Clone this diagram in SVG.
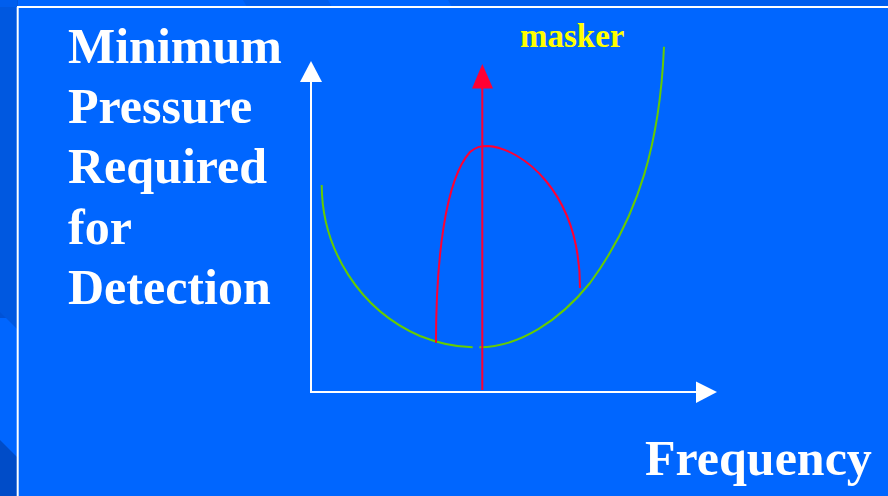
<svg xmlns="http://www.w3.org/2000/svg" width="888" height="496" viewBox="0 0 888 496">
<defs>
<linearGradient id="lg" x1="0" y1="0" x2="0" y2="1">
<stop offset="0" stop-color="#0062F4"/>
<stop offset="1" stop-color="#0052D6"/>
</linearGradient>
<style>
.t{font-family:"Liberation Serif","Times New Roman",serif;font-weight:bold;fill:#FFFFFF;font-size:50px}
.m{font-family:"Liberation Serif","Times New Roman",serif;font-weight:bold;fill:#FFFF00;font-size:33px}
.ax{stroke:#FFFFFF;stroke-width:2;fill:none}
.gr{stroke:#66CC00;stroke-width:2;fill:none}
.rd{stroke:#FF0033;stroke-width:2;fill:none}
</style>
</defs>
<g id="background">
<rect x="0" y="0" width="888" height="496" fill="#0066FF"/>
<rect x="0" y="0" width="18" height="318" fill="url(#lg)"/>
<polygon points="0,0 18,0 18,330 0,312" fill="#0058E0"/>
<polygon points="0,440 18,458 18,496 0,496" fill="#004CC8"/>
<polygon points="0,0 17,0 17,7 0,7" fill="#005EEE"/>
<polygon points="243,0 328,0 332,7 247,7" fill="#005EEE"/>
<polygon points="448,0 888,0 888,7 452,7" fill="#005EEE"/>
<rect x="18" y="8" width="870" height="488" fill="#0066FF"/>
<line x1="17.7" y1="7" x2="17.7" y2="496" stroke="#FFFFFF" stroke-width="2"/>
<line x1="17" y1="7" x2="888" y2="7" stroke="#FFFFFF" stroke-width="2"/>
</g>
<g id="y-label">
<text class="t" x="68" y="63">Minimum</text>
<text class="t" x="68" y="123">Pressure</text>
<text class="t" x="68" y="183">Required</text>
<text class="t" x="68" y="244">for</text>
<text class="t" x="68" y="304">Detection</text>
</g>
<g id="x-label">
<text class="t" x="645" y="475">Frequency</text>
</g>
<g id="masker-label">
<text class="m" x="520" y="47">masker</text>
</g>
<g id="connectors">
<line class="ax" x1="311" y1="80" x2="311" y2="392"/>
<polygon points="311,61 300,82 322,82" fill="#FFFFFF"/>
<line class="ax" x1="310" y1="392" x2="698" y2="392"/>
<polygon points="717,392 696,381.5 696,403" fill="#FFFFFF"/>
</g>
<g id="threshold-curve">
<path class="gr" d="M321.7,185 C322,250 360,310 420,336 C440,344 455,347 472.7,347.3"/>
<path class="gr" d="M479.3,347.3 C520,347 560,320 590,283 C640,215 660,140 664,46.7"/>
</g>
<g id="masking-curve">
<path class="rd" d="M436,342.7 C436,260 445,180 470,152 C476,147 480,146 488,146 C520,148 580,190 580,288"/>
</g>
<g id="masker">
<line class="rd" x1="482.3" y1="86" x2="482.3" y2="390"/>
<polygon points="482.3,64 472,88.5 493,88.5" fill="#FF0033"/>
</g>
</svg>
